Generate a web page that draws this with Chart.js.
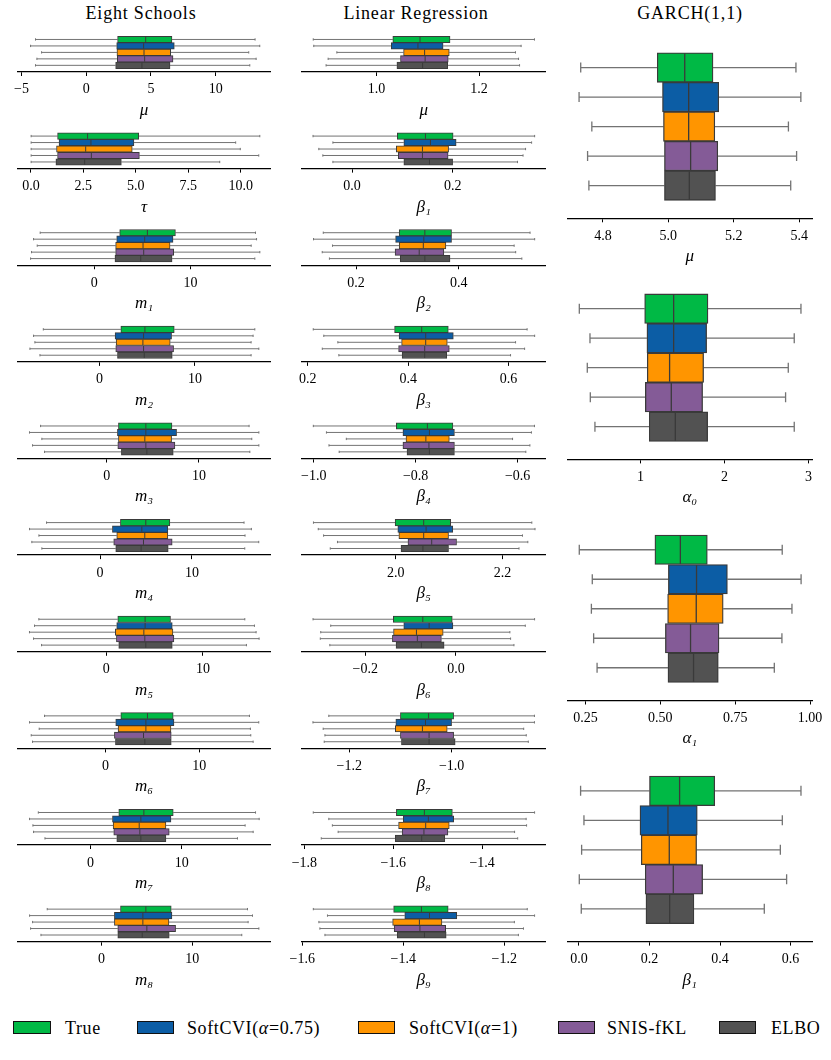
<!DOCTYPE html>
<html><head><meta charset="utf-8">
<script src="https://cdn.jsdelivr.net/npm/chart.js@4.4.1/dist/chart.umd.min.js"></script>
<style>
html,body{margin:0;padding:0;background:#fff;overflow:hidden;}
#wrap{position:relative;width:831px;height:1060px;overflow:hidden;font-family:'Liberation Serif','DejaVu Serif',serif;color:#000;}
.coltitle{position:absolute;top:2.9px;font-size:18px;line-height:20px;letter-spacing:0.8px;white-space:nowrap;transform:translateX(-50%);}
.panel{position:absolute;}
.lg-box{position:absolute;top:1021px;width:37.4px;height:13.3px;box-sizing:border-box;border:1.2px solid #111;}
.lg-text{position:absolute;top:1018.2px;font-size:18px;line-height:20px;letter-spacing:0.6px;white-space:nowrap;}
</style></head><body>
<div id="wrap"></div>
<script>
// ---------------- data ----------------
const methods = ['True', 'SoftCVI(α=0.75)', 'SoftCVI(α=1)', 'SNIS-fKL', 'ELBO'];
const colTitles = ['Eight Schools', 'Linear Regression', 'GARCH(1,1)'];

// each row: [lower whisker, Q1, median, Q3, upper whisker] for True, SoftCVI(0.75), SoftCVI(1), SNIS-fKL, ELBO
const esMu  = [[-3.92,2.42,4.59,6.62,13.04],[-4.30,2.35,4.43,6.80,13.40],[-3.45,2.37,4.46,6.52,12.55],[-3.81,2.40,4.51,6.70,13.12],[-3.92,2.27,4.30,6.47,12.63]];
const esTau = [[0.01,1.27,2.70,5.14,10.91],[0.01,1.34,2.86,4.91,9.76],[0.01,1.22,2.61,4.83,9.98],[0.01,1.27,2.88,5.17,10.86],[0.01,1.19,2.56,4.31,9.00]];
const esM1  = [[-5.63,2.64,5.52,8.44,16.77],[-6.32,2.33,5.24,8.19,16.88],[-5.94,2.22,5.07,7.88,16.32],[-6.53,2.22,5.14,8.26,17.22],[-6.63,2.15,4.83,8.09,16.70]];
const esM2  = [[-5.87,2.24,4.76,7.83,16.26],[-6.89,1.64,4.62,7.55,16.08],[-6.75,1.75,4.55,7.41,15.87],[-7.27,1.71,4.62,7.76,16.68],[-6.22,1.89,4.69,7.62,15.87]];
const esM3  = [[-7.17,1.27,4.24,7.07,15.43],[-8.37,1.16,4.24,7.57,16.49],[-7.03,1.27,4.13,7.03,15.72],[-8.04,1.20,4.24,7.39,16.49],[-6.74,1.59,4.35,7.21,15.51]];
const esM4  = [[-5.82,2.22,4.98,7.60,15.67],[-7.67,1.35,4.55,7.38,16.47],[-6.65,1.82,4.87,7.38,15.78],[-7.42,1.49,4.73,7.85,17.27],[-6.33,1.71,4.47,7.42,15.75]];
const esM5  = [[-6.99,1.18,4.01,6.64,14.33],[-7.44,1.07,4.01,6.82,15.33],[-7.96,0.93,3.88,6.89,15.50],[-7.54,1.04,3.98,6.99,15.81],[-6.71,1.28,4.08,6.82,14.50]];
const esM6  = [[-6.48,1.64,4.48,7.22,15.34],[-8.08,1.10,4.31,7.30,16.33],[-7.05,1.35,4.31,6.98,15.44],[-7.90,0.96,4.06,7.01,15.48],[-7.76,1.07,4.20,7.01,15.73]];
const esM7  = [[-5.71,3.11,5.86,9.08,18.10],[-6.67,2.42,5.53,8.83,18.50],[-6.30,2.49,5.35,8.28,16.96],[-6.23,2.56,5.42,8.64,17.84],[-4.98,2.89,5.53,8.28,16.12]];
const esM8  = [[-5.96,2.10,4.89,7.68,16.07],[-7.90,1.43,4.56,7.76,16.62],[-7.57,1.43,4.56,7.43,16.14],[-7.79,1.80,5.00,8.16,17.32],[-6.65,1.80,4.49,7.46,15.44]];

const lrMu = [[0.877,1.032,1.085,1.1435,1.308],[0.878,1.029,1.081,1.130,1.282],[0.923,1.053,1.094,1.142,1.271],[0.906,1.047,1.095,1.140,1.277],[0.902,1.040,1.090,1.139,1.279]];
const lrB1 = [[-0.0775,0.090,0.146,0.201,0.363],[-0.038,0.103,0.156,0.207,0.357],[-0.066,0.088,0.140,0.192,0.345],[-0.058,0.092,0.140,0.191,0.340],[-0.038,0.103,0.154,0.200,0.329]];
const lrB2 = [[0.136,0.284,0.334,0.386,0.539],[0.117,0.277,0.332,0.386,0.548],[0.154,0.284,0.331,0.375,0.508],[0.134,0.276,0.323,0.371,0.511],[0.148,0.286,0.334,0.383,0.523]];
const lrB3 = [[0.211,0.373,0.427,0.480,0.637],[0.232,0.382,0.435,0.490,0.652],[0.260,0.387,0.435,0.478,0.614],[0.229,0.381,0.433,0.482,0.632],[0.262,0.388,0.433,0.477,0.604]];
const lrB4 = [[-1.0007,-0.838,-0.777,-0.727,-0.567],[-0.975,-0.825,-0.773,-0.724,-0.573],[-0.936,-0.819,-0.780,-0.734,-0.610],[-0.970,-0.825,-0.774,-0.724,-0.576],[-0.950,-0.817,-0.773,-0.724,-0.584]];
const lrB5 = [[1.846,1.999,2.0525,2.103,2.255],[1.855,2.004,2.057,2.107,2.261],[1.865,2.006,2.0525,2.099,2.2375],[1.891,2.023,2.0675,2.114,2.2475],[1.8775,2.010,2.051,2.099,2.231]];
const lrB6 = [[-0.315,-0.138,-0.073,-0.008,0.1735],[-0.276,-0.115,-0.059,-0.0066,0.153],[-0.298,-0.1375,-0.087,-0.028,0.119],[-0.299,-0.140,-0.085,-0.032,0.1206],[-0.278,-0.132,-0.076,-0.026,0.128]];
const lrB7 = [[-1.240,-1.100,-1.045,-0.996,-0.838],[-1.271,-1.109,-1.051,-1.000,-0.838],[-1.251,-1.110,-1.057,-1.0085,-0.859],[-1.2476,-1.100,-1.044,-0.996,-0.854],[-1.249,-1.098,-1.044,-0.993,-0.850]];
const lrB8 = [[-1.780,-1.593,-1.530,-1.467,-1.282],[-1.745,-1.5775,-1.521,-1.464,-1.301],[-1.737,-1.588,-1.527,-1.474,-1.300],[-1.724,-1.580,-1.531,-1.477,-1.327],[-1.762,-1.5955,-1.536,-1.484,-1.320]];
const lrB9 = [[-1.578,-1.419,-1.364,-1.311,-1.1545],[-1.550,-1.397,-1.348,-1.294,-1.140],[-1.567,-1.421,-1.368,-1.3234,-1.180],[-1.565,-1.418,-1.367,-1.316,-1.162],[-1.555,-1.412,-1.358,-1.315,-1.172]];

const gMu = [[4.732,4.966,5.050,5.1365,5.390],[4.727,4.982,5.062,5.154,5.405],[4.766,4.985,5.062,5.142,5.367],[4.753,4.988,5.068,5.151,5.392],[4.757,4.988,5.064,5.144,5.374]];
const gA0 = [[0.270,1.048,1.393,1.802,2.909],[0.397,1.075,1.393,1.786,2.829],[0.365,1.079,1.345,1.750,2.758],[0.401,1.056,1.365,1.738,2.726],[0.456,1.103,1.413,1.798,2.829]];
const gA1 = [[0.2296,0.482,0.567,0.657,0.907],[0.273,0.527,0.621,0.724,0.970],[0.270,0.5245,0.620,0.710,0.9395],[0.2775,0.517,0.601,0.696,0.906],[0.289,0.5256,0.611,0.6936,0.8806]];
const gB1 = [[0.0047,0.200,0.2854,0.385,0.6295],[0.0142,0.173,0.2524,0.3355,0.5766],[0.0076,0.1767,0.2561,0.3336,0.571],[0.001,0.188,0.2675,0.3507,0.5888],[0.0066,0.190,0.2571,0.326,0.5255]];

// axis labels
const esLabels = ['μ','τ','m₁','m₂','m₃','m₄','m₅','m₆','m₇','m₈'];
const lrLabels = ['μ','β₁','β₂','β₃','β₄','β₅','β₆','β₇','β₈','β₉'];
const gLabels  = ['μ','α₀','α₁','β₁'];

// tick values and decimals
const esTicks = [[-5,0,5,10],[0,2.5,5,7.5,10],[0,10],[0,10],[0,10],[0,10],[0,10],[0,10],[0,10],[0,10]];
const esDec   = [0,1,0,0,0,0,0,0,0,0];
const lrTicks = [[1.0,1.2],[0.0,0.2],[0.2,0.4],[0.2,0.4,0.6],[-1.0,-0.8,-0.6],[2.0,2.2],[-0.2,0.0],[-1.2,-1.0],[-1.8,-1.6,-1.4],[-1.6,-1.4,-1.2]];
const lrDec   = [1,1,1,1,1,1,1,1,1,1];
const gTicks  = [[4.8,5.0,5.2,5.4],[1,2,3],[0.25,0.5,0.75,1.0],[0.0,0.2,0.4,0.6]];
const gDec    = [1,0,2,1];

// axis limits
const esRange = [[-5.31,14.23],[-0.64,11.42],[-7.99,18.33],[-8.57,17.9],[-9.67,17.75],[-8.98,18.55],[-9.20,16.99],[-9.36,17.58],[-7.99,19.74],[-9.23,18.60]];
const lrRange = [[0.8545,1.3299],[-0.100,0.385],[0.094,0.5695],[0.188,0.674],[-1.0235,-0.545],[1.824,2.281],[-0.340,0.198],[-1.293,-0.816],[-1.806,-1.257],[-1.601,-1.118]];
const gRange  = [[4.691,5.440],[0.127,3.044],[0.1896,1.0074],[-0.033,0.6616]];

// ---------------- styles / layout ----------------
const methodColors = ['#00B945','#0C5DA5','#FF9500','#845B97','#525252'];
const EDGE = '#3a3a3a', WHISK = '#737373';
const FONT = "'Liberation Serif', 'DejaVu Serif', serif";
const colX = [[17.5,270.5],[301.7,545.7],[567.3,812.3]];
const colTitleX = [141, 416, 690];
const smallGeom = {axis0:72, step:96.63, unit:6.47, yMin:0, yMax:6.03, lw:1.0, capFrac:0.18};
const bigGeom   = {axis0:218.3, step:241.1, unit:29.5, yMin:-0.11, yMax:6.11, lw:1.3, capFrac:0.17};
const legendBoxX = [13.3, 136.5, 358, 558, 719];
const legendTextX = [65, 187, 409, 607, 771];

const wrap = document.getElementById('wrap');

function fmt(v, d) { const s = Math.abs(v).toFixed(d); return (v < 0 && Number(s) !== 0 ? '\u2212' : '') + s; }

const boxPlugin = {
  id: 'boxWhiskers',
  beforeDatasetsDraw(chart) {
    const o = chart.options.plugins.boxWhiskers;
    const xs = chart.scales.x, ys = chart.scales.y, ctx = chart.ctx;
    const unit = Math.abs(ys.getPixelForValue(2) - ys.getPixelForValue(1));
    const cap = unit * o.capFrac;
    ctx.save();
    ctx.strokeStyle = o.whiskerColor; ctx.lineWidth = o.lineWidth; ctx.lineCap = 'butt';
    o.stats.forEach((r, i) => {
      const y = ys.getPixelForValue(i + 1);
      const p = r.map(v => xs.getPixelForValue(v));
      ctx.beginPath();
      ctx.moveTo(p[0], y); ctx.lineTo(p[1], y);
      ctx.moveTo(p[3], y); ctx.lineTo(p[4], y);
      ctx.moveTo(p[0], y - cap); ctx.lineTo(p[0], y + cap);
      ctx.moveTo(p[4], y - cap); ctx.lineTo(p[4], y + cap);
      ctx.stroke();
    });
    ctx.restore();
  },
  afterDatasetsDraw(chart) {
    const o = chart.options.plugins.boxWhiskers;
    const xs = chart.scales.x, ys = chart.scales.y, ctx = chart.ctx;
    const unit = Math.abs(ys.getPixelForValue(2) - ys.getPixelForValue(1));
    const half = unit / 2 - o.lineWidth / 2;
    ctx.save();
    ctx.strokeStyle = o.edgeColor; ctx.lineWidth = o.lineWidth;
    o.stats.forEach((r, i) => {
      const y = ys.getPixelForValue(i + 1);
      const x = xs.getPixelForValue(r[2]);
      ctx.beginPath(); ctx.moveTo(x, y - half); ctx.lineTo(x, y + half); ctx.stroke();
    });
    ctx.restore();
  }
};

function makePanel(col, k, stats, range, ticks, dec, label, g) {
  const [ax0, ax1] = colX[col];
  const axisY = g.axis0 + g.step * k;
  const chartH = g.unit * (g.yMax - g.yMin);
  const xH = 52;
  const left = Math.floor(ax0 - 18), top = Math.floor(axisY - chartH - 4);
  const w = Math.ceil(ax1 + 18) - left;
  const h = Math.ceil(axisY + xH + 2) - top;
  const pl = ax0 - left, pr = w - (ax1 - left), pt = axisY - chartH - top, pb = h - (axisY - top) - xH;
  const div = document.createElement('div');
  div.className = 'panel';
  div.style.left = left + 'px'; div.style.top = top + 'px';
  div.style.width = w + 'px'; div.style.height = h + 'px';
  const cv = document.createElement('canvas');
  cv.width = w; cv.height = h;
  div.appendChild(cv); wrap.appendChild(div);
  new Chart(cv, {
    type: 'bar',
    data: {
      datasets: [{
        data: stats.map((r, i) => ({ x: [r[1], r[3]], y: i + 1 })),
        backgroundColor: methodColors,
        borderColor: EDGE,
        borderWidth: g.lw,
        borderSkipped: false,
        barThickness: 'flex',
        categoryPercentage: 1,
        barPercentage: 1
      }]
    },
    options: {
      indexAxis: 'y',
      responsive: false,
      animation: false,
      events: [],
      layout: { padding: { left: pl, right: pr, top: pt, bottom: pb } },
      plugins: {
        legend: { display: false },
        tooltip: { enabled: false },
        boxWhiskers: { stats: stats, whiskerColor: WHISK, edgeColor: EDGE, lineWidth: g.lw, capFrac: g.capFrac }
      },
      scales: {
        x: {
          type: 'linear', position: 'bottom', min: range[0], max: range[1],
          afterBuildTicks: s => { s.ticks = ticks.map(v => ({ value: v })); },
          afterFit: s => { s.height = xH; },
          ticks: { callback: v => fmt(v, dec), font: { family: FONT, size: 14 }, color: '#000', padding: 5.4, maxRotation: 0, minRotation: 0, autoSkip: false },
          grid: { display: true, drawOnChartArea: false, drawTicks: true, tickLength: 4, tickWidth: 1, tickColor: '#000', color: '#000' },
          border: { display: true, color: '#000', width: 1.3 },
          title: { display: true, text: label, color: '#000', font: { family: FONT, size: 17, style: 'italic' }, padding: { top: 0, bottom: 3.3 } }
        },
        y: { type: 'linear', reverse: true, min: g.yMin, max: g.yMax, display: false, offset: false }
      }
    },
    plugins: [boxPlugin]
  });
}

// column titles
colTitles.forEach((t, i) => {
  const d = document.createElement('div');
  d.className = 'coltitle'; d.style.left = colTitleX[i] + 'px'; d.textContent = t;
  wrap.appendChild(d);
});

const esStats = [esMu, esTau, esM1, esM2, esM3, esM4, esM5, esM6, esM7, esM8];
const lrStats = [lrMu, lrB1, lrB2, lrB3, lrB4, lrB5, lrB6, lrB7, lrB8, lrB9];
const gStats  = [gMu, gA0, gA1, gB1];

esStats.forEach((s, k) => makePanel(0, k, s, esRange[k], esTicks[k], esDec[k], esLabels[k], smallGeom));
lrStats.forEach((s, k) => makePanel(1, k, s, lrRange[k], lrTicks[k], lrDec[k], lrLabels[k], smallGeom));
gStats.forEach((s, k) => makePanel(2, k, s, gRange[k], gTicks[k], gDec[k], gLabels[k], bigGeom));

// legend
methods.forEach((m, i) => {
  const b = document.createElement('div');
  b.className = 'lg-box'; b.style.left = legendBoxX[i] + 'px'; b.style.background = methodColors[i];
  wrap.appendChild(b);
  const t = document.createElement('div');
  t.className = 'lg-text'; t.style.left = legendTextX[i] + 'px';
  t.innerHTML = m.replace('α', '<i>α</i>');
  wrap.appendChild(t);
});
</script>
</body></html>
